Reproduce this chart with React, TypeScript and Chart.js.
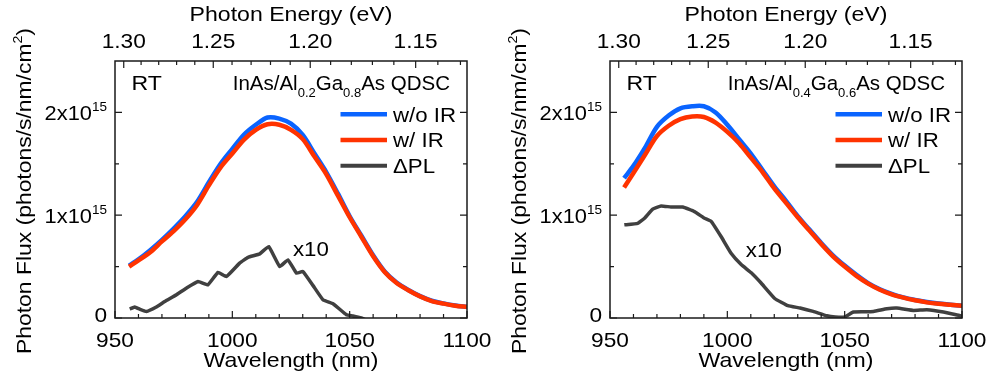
import React, { useEffect, useRef } from "react";
import { Chart, registerables } from "chart.js";

Chart.register(...registerables);

// ---------- data (flux in units of 1e15 photons/s/nm/cm^2) ----------
const HC = 1239.84; // eV·nm
const wlMajorTicks = [950, 1000, 1050, 1100];
const energyMajorTicks = [1.3, 1.25, 1.2, 1.15];
const fluxMajorTicks = [0, 1, 2];
const fluxMinorTicks = [0.5, 1.5];

const gridWl = [956, 960, 965, 970, 975, 980, 985, 990, 995, 1000, 1005, 1010, 1015, 1020, 1025, 1030, 1035, 1040, 1045, 1050, 1055, 1060, 1065, 1070, 1075, 1080, 1085, 1090, 1095, 1100];

// Left panel: InAs/Al0.2Ga0.8As
const leftWoIR = [0.51, 0.57, 0.66, 0.76, 0.87, 0.99, 1.13, 1.32, 1.5, 1.645, 1.785, 1.88, 1.95, 1.94, 1.89, 1.78, 1.6, 1.42, 1.21, 0.99, 0.8, 0.61, 0.45, 0.345, 0.273, 0.213, 0.168, 0.142, 0.122, 0.109];
const leftWIR = [0.5, 0.56, 0.64, 0.745, 0.845, 0.96, 1.1, 1.29, 1.465, 1.6, 1.735, 1.83, 1.885, 1.88, 1.83, 1.74, 1.57, 1.4, 1.19, 0.98, 0.79, 0.6, 0.445, 0.34, 0.27, 0.21, 0.165, 0.14, 0.12, 0.107];
const leftDeltaWl = [956.3, 958.4, 960.5, 963.4, 967.6, 971.2, 976.2, 980.4, 985.4, 989.6, 993.9, 997.5, 1003.1, 1006.7, 1011.7, 1015.5, 1020.2, 1023.7, 1027.3, 1030.1, 1034.4, 1038.6, 1042.9, 1048.6, 1051.4, 1055, 1057];
const leftDelta = [0.087, 0.107, 0.087, 0.064, 0.107, 0.16, 0.226, 0.29, 0.355, 0.323, 0.443, 0.404, 0.534, 0.59, 0.624, 0.695, 0.5, 0.566, 0.437, 0.452, 0.315, 0.178, 0.139, 0.032, 0.02, 0.0, -0.02];

// Right panel: InAs/Al0.4Ga0.6As
const rightWoIR = [1.36, 1.48, 1.66, 1.86, 1.97, 2.04, 2.06, 2.06, 2.0, 1.88, 1.74, 1.6, 1.44, 1.28, 1.14, 0.99, 0.86, 0.73, 0.61, 0.51, 0.42, 0.34, 0.28, 0.235, 0.2, 0.175, 0.155, 0.14, 0.13, 0.12];
const rightWIR = [1.27, 1.41, 1.59, 1.77, 1.87, 1.935, 1.96, 1.955, 1.9, 1.81, 1.7, 1.56, 1.42, 1.26, 1.12, 0.98, 0.85, 0.72, 0.6, 0.5, 0.41, 0.335, 0.275, 0.23, 0.198, 0.172, 0.152, 0.138, 0.128, 0.118];
const rightDeltaWl = [956.1, 961.8, 964.7, 968.2, 971.8, 976, 981, 986, 990.3, 993.1, 997.4, 1001.6, 1005.9, 1010.2, 1014.4, 1020.2, 1025.8, 1031, 1036.6, 1042.4, 1046, 1050, 1053.7, 1058, 1062.3, 1068, 1072.2, 1079.3, 1085, 1092.1, 1099.2, 1100];
const rightDelta = [0.906, 0.92, 0.97, 1.06, 1.09, 1.08, 1.08, 1.035, 0.97, 0.94, 0.79, 0.63, 0.52, 0.44, 0.34, 0.19, 0.12, 0.097, 0.064, 0.022, 0.01, 0.01, 0.058, 0.06, 0.064, 0.09, 0.097, 0.074, 0.08, 0.058, 0.022, 0.02];

const legendLabels = ["w/o IR", "w/ IR", "\u0394PL"];
const BLUE = "#0a64ff";
const RED = "#ff3300";
const GRAY = "#404040";
const FONT = '"Liberation Sans", Arial, Helvetica, sans-serif';
const FS = 21;

type Part = { t: string; size: number; dy?: number };

function drawRich(
  ctx: CanvasRenderingContext2D,
  parts: Part[],
  x: number,
  y: number,
  align: "left" | "right" | "center",
  sx: number = 1
) {
  let total = 0;
  const widths = parts.map((p) => {
    ctx.font = `${p.size}px ${FONT}`;
    const w = ctx.measureText(p.t).width * sx;
    total += w;
    return w;
  });
  let cx = align === "left" ? x : align === "right" ? x - total : x - total / 2;
  ctx.textAlign = "left";
  ctx.textBaseline = "alphabetic";
  parts.forEach((p, i) => {
    ctx.font = `${p.size}px ${FONT}`;
    ctx.save();
    ctx.translate(cx, y + (p.dy || 0));
    ctx.scale(sx, 1);
    ctx.fillText(p.t, 0, 0);
    ctx.restore();
    cx += widths[i];
  });
}

type PanelProps = {
  woIR: number[];
  wIR: number[];
  deltaWl: number[];
  delta: number[];
  sub1: string;
  sub2: string;
  x10At: [number, number];
};

function Panel({ woIR, wIR, deltaWl, delta, sub1, sub2, x10At }: PanelProps) {
  const ref = useRef<HTMLCanvasElement | null>(null);
  useEffect(() => {
    if (!ref.current) return;
    const deco = {
      id: "deco",
      afterDraw(chart: any) {
        const ctx: CanvasRenderingContext2D = chart.ctx;
        const xs = chart.scales.x;
        const ys = chart.scales.y;
        const { left, right, top, bottom } = chart.chartArea;
        ctx.save();
        ctx.strokeStyle = "#1a1a1a";
        ctx.fillStyle = "#000";
        ctx.lineWidth = 1.5;
        ctx.strokeRect(left, top, right - left, bottom - top);
        ctx.lineWidth = 1.2;
        // bottom ticks (wavelength)
        for (let w = 950; w <= 1100; w += 10) {
          const px = xs.getPixelForValue(w);
          const len = w % 50 === 0 ? 7 : 4;
          ctx.beginPath();
          ctx.moveTo(px, bottom);
          ctx.lineTo(px, bottom - len);
          ctx.stroke();
        }
        // top ticks (energy)
        for (let k = 130; k >= 112; k -= 1) {
          const e = k / 100;
          const wl = HC / e;
          if (wl < 950 || wl > 1100) continue;
          const px = xs.getPixelForValue(wl);
          const len = k % 5 === 0 ? 7 : 4;
          ctx.beginPath();
          ctx.moveTo(px, top);
          ctx.lineTo(px, top + len);
          ctx.stroke();
        }
        // y ticks both sides
        [...fluxMajorTicks, ...fluxMinorTicks].forEach((v) => {
          const py = ys.getPixelForValue(v);
          const len = fluxMajorTicks.includes(v) ? 7 : 4;
          ctx.beginPath();
          ctx.moveTo(left, py);
          ctx.lineTo(left + len, py);
          ctx.moveTo(right, py);
          ctx.lineTo(right - len, py);
          ctx.stroke();
        });
        ctx.fillStyle = "#000";
        // bottom tick labels
        wlMajorTicks.forEach((w) => {
          drawRich(ctx, [{ t: String(w), size: FS }], xs.getPixelForValue(w), bottom + 28.5, "center", 1.08);
        });
        // top tick labels
        energyMajorTicks.forEach((e) => {
          drawRich(ctx, [{ t: e.toFixed(2), size: FS }], xs.getPixelForValue(HC / e), top - 12.7, "center", 1.08);
        });
        // y tick labels
        fluxMajorTicks.forEach((v) => {
          const py = ys.getPixelForValue(v);
          if (v === 0) {
            drawRich(ctx, [{ t: "0", size: FS }], left - 8, py + 4, "right", 1.08);
          } else {
            drawRich(ctx, [{ t: `${v}x10`, size: FS }, { t: "15", size: 13, dy: -9.5 }], left - 8, py + 8, "right", 1.04);
          }
        });
        // axis titles
        drawRich(ctx, [{ t: "Wavelength (nm)", size: FS }], (left + right) / 2, 367, "center", 1.1);
        drawRich(ctx, [{ t: "Photon Energy (eV)", size: FS }], (left + right) / 2, 21, "center", 1.1);
        ctx.save();
        ctx.translate(31, 191);
        ctx.rotate(-Math.PI / 2);
        drawRich(
          ctx,
          [{ t: "Photon Flux (photons/s/nm/cm", size: FS }, { t: "2", size: 13, dy: -9 }, { t: ")", size: FS }],
          0,
          0,
          "center",
          1.09
        );
        ctx.restore();
        // annotations
        drawRich(ctx, [{ t: "RT", size: FS }], left + 16.5, 90, "left", 1.1);
        drawRich(
          ctx,
          [
            { t: "InAs/Al", size: 20.5 },
            { t: sub1, size: 13, dy: 6.5 },
            { t: "Ga", size: 20.5 },
            { t: sub2, size: 13, dy: 6.5 },
            { t: "As QDSC", size: 20.5 },
          ],
          right - 17,
          90,
          "right",
          1
        );
        drawRich(ctx, [{ t: "x10", size: FS }], xs.getPixelForValue(x10At[0]), ys.getPixelForValue(x10At[1]), "left", 1.06);
        // legend
        const legColors = [BLUE, RED, GRAY];
        const legY = [top + 53.3, top + 79, top + 104.7];
        legColors.forEach((c, i) => {
          ctx.strokeStyle = c;
          ctx.lineWidth = i === 2 ? 4 : 4.5;
          ctx.beginPath();
          ctx.moveTo(left + 225.5, legY[i]);
          ctx.lineTo(left + 272, legY[i]);
          ctx.stroke();
          ctx.fillStyle = "#000";
          drawRich(ctx, [{ t: legendLabels[i], size: FS }], left + 278, legY[i] + 7.2, "left", 1.06);
        });
        ctx.restore();
      },
    };
    const chart = new Chart(ref.current, {
      type: "line",
      data: {
        datasets: [
          {
            label: legendLabels[1],
            data: gridWl.map((x, i) => ({ x, y: wIR[i] })),
            borderColor: RED,
            borderWidth: 4.5,
            tension: 0.3,
            pointRadius: 0,
          },
          {
            label: legendLabels[0],
            data: gridWl.map((x, i) => ({ x, y: woIR[i] })),
            borderColor: BLUE,
            borderWidth: 4.5,
            tension: 0.3,
            pointRadius: 0,
          },
          {
            label: legendLabels[2],
            data: deltaWl.map((x, i) => ({ x, y: delta[i] })),
            borderColor: GRAY,
            borderWidth: 3.5,
            tension: 0.1,
            pointRadius: 0,
          },
        ],
      },
      options: {
        animation: false,
        responsive: false,
        devicePixelRatio: 1,
        layout: { padding: { left: 115, right: 29, top: 61, bottom: 65 } },
        plugins: { legend: { display: false }, tooltip: { enabled: false } },
        scales: {
          x: { type: "linear", min: 950, max: 1100, display: false },
          y: { type: "linear", min: 0, max: 2.5, display: false },
        },
      },
      plugins: [deco],
    } as any);
    return () => chart.destroy();
  }, []);
  return <canvas ref={ref} width={496} height={383} style={{ display: "block", width: 496, height: 383 }} />;
}

export default function App() {
  return (
    <div style={{ position: "fixed", left: 0, top: 0, width: 992, height: 383, background: "#fff" }}>
      <div style={{ position: "absolute", left: 0, top: 0 }}>
        <Panel woIR={leftWoIR} wIR={leftWIR} deltaWl={leftDeltaWl} delta={leftDelta} sub1="0.2" sub2="0.8" x10At={[1025.8, 0.605]} />
      </div>
      <div style={{ position: "absolute", left: 495, top: 0 }}>
        <Panel woIR={rightWoIR} wIR={rightWIR} deltaWl={rightDeltaWl} delta={rightDelta} sub1="0.4" sub2="0.6" x10At={[1007.9, 0.598]} />
      </div>
    </div>
  );
}
